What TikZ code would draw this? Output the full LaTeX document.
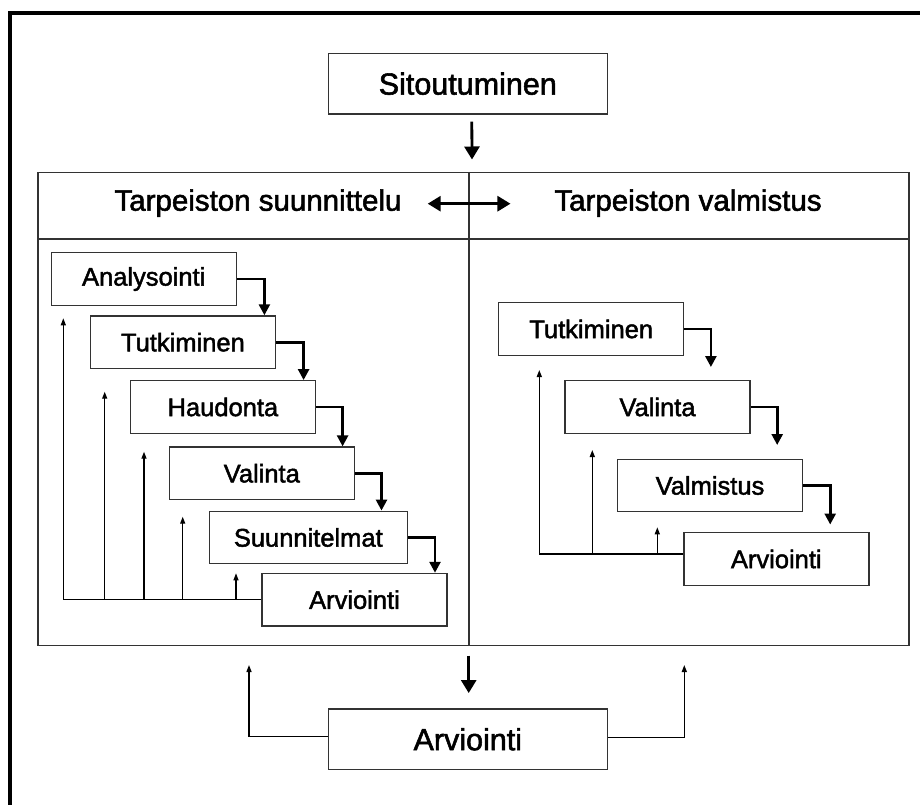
\documentclass[tikz,border=0pt]{standalone}
\usepackage{fontspec}
\setmainfont{Liberation Sans}[FakeBold=1.8]
\usetikzlibrary{arrows.meta,calc}
\definecolor{edge}{HTML}{333333}
\begin{document}
\begin{tikzpicture}[x=1pt,y=-1pt,
  box/.style={draw=edge, line width=1.4pt, fill=white, inner sep=0pt,
    minimum width=185pt, minimum height=52.5pt, font=\fontsize{25.5}{30}\selectfont},
  bigbox/.style={box, minimum width=279pt, minimum height=60.5pt, font=\fontsize{30.5}{36}\selectfont},
  head/.style={inner sep=0pt, anchor=base, font=\fontsize{29.5}{34}\selectfont},
  flow/.style={line width=2.6pt, -{Triangle[width=11pt,length=11pt]}},
  bigflow/.style={line width=2.8pt, -{Triangle[width=15pt,length=13pt]}},
  fb/.style={line width=1.3pt, -{Triangle[width=5pt,length=7pt]}},
]
\useasboundingbox (0,0) rectangle (920,805);
\fill[white] (0,0) rectangle (920,805);
\draw[line width=4pt] (10,805) -- (10,13) -- (920,13);

% top and bottom
\node[bigbox] (s) at (467.8,83.7) {Sitoutuminen};
\node[bigbox] (e) at (467.8,739.3) {Arviointi};

% container
\node[draw=edge, line width=1.4pt, inner sep=0pt, minimum width=871pt, minimum height=472.8pt] (panel) at (473.5,409.1) {};
\draw[edge, line width=1.4pt] (panel.west |- 0,239) -- (panel.east |- 0,239);
\draw[edge, line width=1.4pt] (469,0 |- panel.north) -- (469,0 |- panel.south);

\node[head] (h1) at (258,210.7) {Tarpeiston suunnittelu};
\node[head] (h2) at (688,210.7) {Tarpeiston valmistus};

\draw[bigflow] ([xshift=4pt,yshift=-7pt]s.south) -- ([xshift=-1.5pt,yshift=12.5pt]panel.north);
\draw[line width=2.8pt, {Triangle[width=15pt,length=13pt]}-{Triangle[width=15pt,length=13pt]}]
  ([xshift=26pt,yshift=7pt]h1.base east) -- ([xshift=-43.7pt,yshift=7pt]h2.base west);
\draw[bigflow] ([xshift=-4.8pt,yshift=-9.5pt]panel.south) -- ([xshift=0.9pt,yshift=15.3pt]e.north);

% left panel
\node[box] (a1) at (143.7,279) {Analysointi};
\node[box] (a2) at (182.9,342.2) {Tutkiminen};
\node[box] (a3) at (222.9,407) {Haudonta};
\node[box] (a4) at (261.8,473.3) {Valinta};
\node[box, minimum width=198pt] (a5) at (308.3,537.5) {Suunnitelmat};
\node[box] (a6) at (354.5,599.7) {Arviointi};

\draw[flow] (a1.east) -| ([xshift=27.5pt]a1.east |- a2.north);
\draw[flow] (a2.east) -| ([xshift=27.5pt]a2.east |- a3.north);
\draw[flow] (a3.east) -| ([xshift=26.5pt]a3.east |- a4.north);
\draw[flow] (a4.east) -| ([xshift=26.5pt]a4.east |- a5.north);
\draw[flow] (a5.east) -| ([xshift=27pt]a5.east |- a6.north);

\coordinate (t0) at (63.3,318.3);
\coordinate (t1) at (104.7,391.7);
\coordinate (t2) at (144,451.7);
\coordinate (t3) at (182.7,516.7);
\coordinate (t4) at (236,573.3);
\draw[fb] (a6.west) -| (t0);
\draw[fb] (t1 |- a6.west) -- (t1);
\draw[fb] (t2 |- a6.west) -- (t2);
\draw[fb] (t3 |- a6.west) -- (t3);
\draw[fb] (t4 |- a6.west) -- (t4);

% right panel
\node[box] (b1) at (591.2,329) {Tutkiminen};
\node[box] (b2) at (657.5,407) {Valinta};
\node[box] (b3) at (710,485.5) {Valmistus};
\node[box] (b4) at (776.3,559) {Arviointi};

\draw[flow] (b1.east) -- ++(26.5,0) -- ++(0,38);
\draw[flow] (b2.east) -- ++(26.5,0) -- ++(0,38);
\draw[flow] (b3.east) -- ++(27,0) -- ++(0,39);

\coordinate (u0) at (539.3,370);
\coordinate (u1) at (592.3,450);
\coordinate (u2) at (657.3,527.3);
\coordinate (bw) at ([yshift=5pt]b4.west);
\draw[fb] (bw) -| (u0);
\draw[fb] (u1 |- bw) -- (u1);
\draw[fb] (u2 |- bw) -- (u2);

% bottom feedback
\coordinate (fa) at (249,665);
\coordinate (fbk) at (684.3,665);
\draw[fb] ([yshift=3pt]e.west) -| (fa);
\draw[fb] ([yshift=2pt]e.east) -| (fbk);
\end{tikzpicture}
\end{document}
